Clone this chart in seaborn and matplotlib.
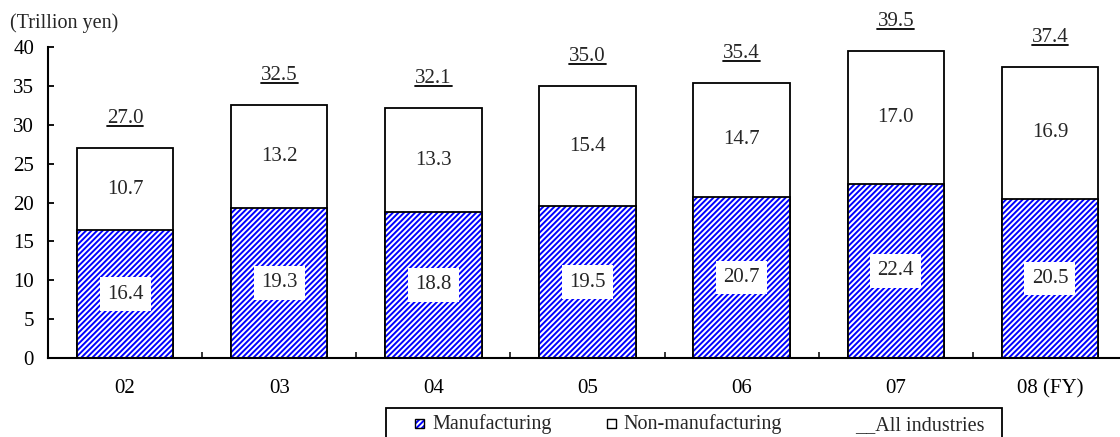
import matplotlib
matplotlib.use("Agg")
import matplotlib.pyplot as plt
import matplotlib.patches as mpatches
from matplotlib.lines import Line2D
import numpy as np
import pandas as pd
import seaborn as sns

# Fiscal years and values (trillion yen)
years = ["02", "03", "04", "05", "06", "07", "08 (FY)"]
manufacturing = [16.4, 19.3, 18.8, 19.5, 20.7, 22.4, 20.5]
non_manufacturing = [10.7, 13.2, 13.3, 15.4, 14.7, 17.0, 16.9]
all_industries = [27.0, 32.5, 32.1, 35.0, 35.4, 39.5, 37.4]
y_ticks = [0, 5, 10, 15, 20, 25, 30, 35, 40]

sns.set_theme(style="white")
plt.rcParams["font.family"] = ["Liberation Serif", "DejaVu Serif"]
plt.rcParams["hatch.linewidth"] = 1.4

FS = 15
FS_SMALL = 14.5
BLUE = "#0000ff"

df = pd.DataFrame({
    "year": years,
    "manufacturing": manufacturing,
    "non_manufacturing": non_manufacturing,
    "all": all_industries,
})

fig = plt.figure(figsize=(11.2, 4.37), dpi=100)
ax = fig.add_axes([48 / 1120, 1 - 358 / 437, 1079 / 1120, 311 / 437])

W = 0.625
# full-height bars (all industries), white with black outline
sns.barplot(data=df, x="year", y="all", order=years, color="white",
            width=W, ax=ax, edgecolor="black", linewidth=1.3)
# manufacturing segment, blue diagonal hatch
sns.barplot(data=df, x="year", y="manufacturing", order=years, color="white",
            width=W, ax=ax, linewidth=0)
# manufacturing outline
sns.barplot(data=df, x="year", y="manufacturing", order=years, color="white",
            width=W, ax=ax, linewidth=1.3)

tot_bars, man_bars, man_edges = ax.containers[0], ax.containers[1], ax.containers[2]
for p in tot_bars:
    p.set_facecolor("white")
    p.set_edgecolor("black")
for p in man_bars:
    p.set_facecolor("white")
    p.set_edgecolor(BLUE)
    p.set_hatch("//////")
    p.set_linewidth(0)
for p in man_edges:
    p.set_facecolor("none")
    p.set_edgecolor("black")
    p.set_linewidth(1.3)

# value labels
OFF = 18
total_texts = []
for i, (m, n, t) in enumerate(zip(manufacturing, non_manufacturing, all_industries)):
    ax.text(i, m / 2, f"{m:.1f}", ha="center", va="center", fontsize=FS,
            bbox=dict(boxstyle="square,pad=0.35", facecolor="white", edgecolor="none"))
    ax.text(i, (m + t) / 2, f"{n:.1f}", ha="center", va="center", fontsize=FS)
    tt = ax.annotate(f"{t:.1f}", xy=(i, t), xytext=(0, OFF), textcoords="offset points",
                     ha="center", va="baseline", fontsize=FS)
    total_texts.append(tt)

ax.set_xlim(-0.5, len(years) - 0.5)
ax.set_ylim(0, 40)
ax.set_yticks(y_ticks)
ax.set_yticklabels([str(v) for v in y_ticks], fontsize=FS)
ax.set_xticks(range(len(years)))
ax.set_xticklabels(years, fontsize=FS)
ax.set_xticks(np.arange(0.5, len(years) - 0.5, 1.0), minor=True)
ax.set_xlabel("")
ax.set_ylabel("")

ax.tick_params(axis="y", which="major", direction="in", length=4, width=1.3,
               pad=10, left=True, colors="black")
ax.tick_params(axis="x", which="major", length=0, pad=15, colors="black")
ax.tick_params(axis="x", which="minor", direction="in", length=4, width=1.3,
               bottom=True)

for side in ["top", "right"]:
    ax.spines[side].set_visible(False)
for side in ["left", "bottom"]:
    ax.spines[side].set_visible(True)
    ax.spines[side].set_color("black")
    ax.spines[side].set_linewidth(1.5)

fig.text(10 / 1120, 1 - 23 / 437, "(Trillion yen)", fontsize=FS_SMALL,
         ha="left", va="center")

# legend box along the bottom edge
def fx(px):
    return px / 1120

def fy(py):
    return 1 - py / 437

def handle(x, hatched):
    if hatched:
        fig.patches.append(mpatches.Rectangle((fx(x), fy(428)), fx(x + 9) - fx(x),
                                              fy(419) - fy(428), transform=fig.transFigure,
                                              facecolor="white", edgecolor=BLUE,
                                              hatch="//////", linewidth=0))
        fig.patches.append(mpatches.Rectangle((fx(x), fy(428)), fx(x + 9) - fx(x),
                                              fy(419) - fy(428), transform=fig.transFigure,
                                              facecolor="none", edgecolor="black",
                                              linewidth=1.0))
    else:
        fig.patches.append(mpatches.Rectangle((fx(x), fy(428)), fx(x + 9) - fx(x),
                                              fy(419) - fy(428), transform=fig.transFigure,
                                              facecolor="white", edgecolor="black",
                                              linewidth=1.0))

fig.patches.append(mpatches.Rectangle((fx(386), fy(450)), fx(1002) - fx(386),
                                      fy(408) - fy(450), transform=fig.transFigure,
                                      facecolor="white", edgecolor="black",
                                      linewidth=1.3))
handle(415, True)
handle(607, False)
fig.text(fx(432), fy(424), "Manufacturing", fontsize=FS_SMALL, ha="left", va="center")
fig.text(fx(623), fy(424), "Non-manufacturing", fontsize=FS_SMALL, ha="left", va="center")
fig.text(fx(855), fy(426), "__All industries", fontsize=FS_SMALL, ha="left", va="center")

# underline the all-industries totals
fig.canvas.draw()
renderer = fig.canvas.get_renderer()
inv = fig.transFigure.inverted()
for tt in total_texts:
    bb = tt.get_window_extent(renderer)
    x0, _ = inv.transform((bb.x0, 0))
    x1, _ = inv.transform((bb.x1, 0))
    base_y = ax.transData.transform(tt.xy)[1] + OFF * fig.dpi / 72
    _, yl = inv.transform((0, base_y - 3))
    fig.lines.append(Line2D([x0, x1], [yl, yl], transform=fig.transFigure,
                            color="black", linewidth=1.3))

fig.savefig("out.png", dpi=100)
